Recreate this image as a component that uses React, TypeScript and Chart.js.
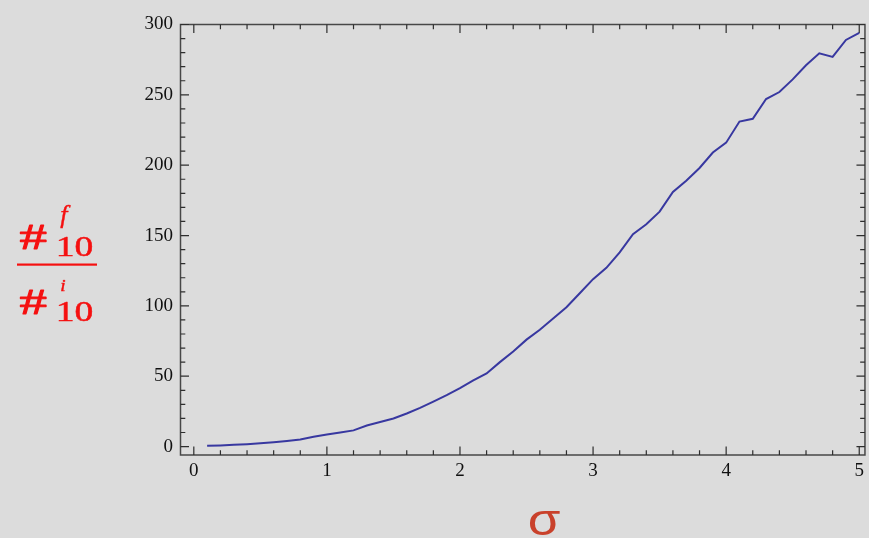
import React, { useEffect, useRef } from "react";
import { Chart, registerables } from "chart.js";

Chart.register(...registerables);

const sigmaValues = [
  0.1, 0.2, 0.3, 0.4, 0.5, 0.6, 0.7, 0.8, 0.9, 1.0,
  1.1, 1.2, 1.3, 1.4, 1.5, 1.6, 1.7, 1.8, 1.9, 2.0,
  2.1, 2.2, 2.3, 2.4, 2.5, 2.6, 2.7, 2.8, 2.9, 3.0,
  3.1, 3.2, 3.3, 3.4, 3.5, 3.6, 3.7, 3.8, 3.9, 4.0,
  4.1, 4.2, 4.3, 4.4, 4.5, 4.6, 4.7, 4.8, 4.9, 5.0,
];
const ratioValues = [
  0.5, 0.8, 1.2, 1.7, 2.3, 3.1, 4, 5, 7, 8.5,
  10, 11.5, 15, 17.5, 20, 23.5, 27.5, 32, 36.5, 41.5,
  47, 52, 60, 67.5, 76, 83, 91, 99, 109, 119,
  127, 138, 151, 158, 167, 181, 189, 198, 209, 216,
  231, 233, 247, 252, 261, 271, 279.5, 277, 289, 294,
];
const xTickLabels = [0, 1, 2, 3, 4, 5];
const yTickLabels = [0, 50, 100, 150, 200, 250, 300];

const W = 869;
const H = 538;

function inkBox(
  ctx: CanvasRenderingContext2D,
  text: string,
  family: string,
  style: string,
  left: number,
  top: number,
  right: number,
  bottom: number,
  color: string,
  lw: number
) {
  const l = left + lw / 2;
  const t = top + lw / 2;
  const r = right - lw / 2;
  const b = bottom - lw / 2;
  ctx.save();
  ctx.textAlign = "left";
  ctx.textBaseline = "alphabetic";
  ctx.font = `${style} 100px ${family}`;
  let m = ctx.measureText(text);
  const h100 = m.actualBoundingBoxAscent + m.actualBoundingBoxDescent;
  const size = (100 * (b - t)) / h100;
  ctx.font = `${style} ${size}px ${family}`;
  m = ctx.measureText(text);
  const inkW = m.actualBoundingBoxLeft + m.actualBoundingBoxRight;
  const sx = (r - l) / inkW;
  ctx.translate(l, t);
  ctx.scale(sx, 1);
  ctx.fillStyle = color;
  ctx.fillText(text, m.actualBoundingBoxLeft, m.actualBoundingBoxAscent);
  if (lw > 0) {
    ctx.strokeStyle = color;
    ctx.lineWidth = lw;
    ctx.lineJoin = "round";
    ctx.strokeText(text, m.actualBoundingBoxLeft, m.actualBoundingBoxAscent);
  }
  ctx.restore();
}

const framePlugin = {
  id: "frame",
  beforeDatasetsDraw(chart: any) {
    const { ctx, chartArea: a, scales } = chart;
    const x = scales.x;
    const y = scales.y;
    ctx.save();
    ctx.strokeStyle = "#474747";
    ctx.lineWidth = 1.5;
    ctx.strokeRect(a.left, a.top, a.right - a.left, a.bottom - a.top);
    ctx.strokeStyle = "#2e2e2e";
    ctx.lineWidth = 1.2;
    ctx.beginPath();
    for (let i = 0; i <= 25; i++) {
      const px = x.getPixelForValue(i / 5);
      const len = i % 5 === 0 ? 8.5 : 4.8;
      ctx.moveTo(px, a.bottom);
      ctx.lineTo(px, a.bottom - len);
      ctx.moveTo(px, a.top);
      ctx.lineTo(px, a.top + len);
    }
    for (let j = 0; j <= 30; j++) {
      const py = y.getPixelForValue(j * 10);
      const len = j % 5 === 0 ? 8.5 : 4.8;
      ctx.moveTo(a.left, py);
      ctx.lineTo(a.left + len, py);
      ctx.moveTo(a.right, py);
      ctx.lineTo(a.right - len, py);
    }
    ctx.stroke();
    ctx.restore();
  },
  afterDraw(chart: any) {
    const ctx: CanvasRenderingContext2D = chart.ctx;
    const red = "#f51010";
    const lib = "'Liberation Serif'";
    inkBox(ctx, "#", lib, "", 19, 225, 47, 250, red, 0.9);
    inkBox(ctx, "f", lib, "italic", 60, 205, 71, 228, red, 0.4);
    inkBox(ctx, "10", lib, "", 58, 237, 93, 257, red, 0.5);
    ctx.save();
    ctx.fillStyle = red;
    ctx.fillRect(17, 263.5, 80, 2.2);
    ctx.restore();
    inkBox(ctx, "#", lib, "", 19, 290, 47, 315, red, 0.9);
    inkBox(ctx, "i", lib, "italic", 60, 280, 66, 292, red, 0.4);
    inkBox(ctx, "10", lib, "", 58, 302, 93, 322, red, 0.5);
    inkBox(ctx, "σ", "'Liberation Sans'", "", 529, 511, 560, 535, "#c9412b", 0);
  },
};

export default function App() {
  const ref = useRef<HTMLCanvasElement | null>(null);
  useEffect(() => {
    if (!ref.current) return;
    const points = sigmaValues.map((s, i) => ({ x: s, y: ratioValues[i] }));
    const tickFont = { family: "'Liberation Serif', 'Times New Roman', serif", size: 19 };
    const chart = new Chart(ref.current, {
      type: "line",
      data: {
        datasets: [
          {
            data: points,
            borderColor: "rgb(56,56,160)",
            borderWidth: 2,
            pointRadius: 0,
            tension: 0,
            fill: false,
          },
        ],
      },
      options: {
        animation: false,
        responsive: false,
        devicePixelRatio: 1,
        layout: { padding: { left: 0, top: 24.5, right: 1.5, bottom: 0 } },
        plugins: { legend: { display: false }, tooltip: { enabled: false } },
        scales: {
          x: {
            type: "linear",
            min: -0.1,
            max: 5.043,
            grid: { display: false, drawTicks: false },
            border: { display: false },
            afterBuildTicks: (s: any) => {
              s.ticks = xTickLabels.map((v) => ({ value: v }));
            },
            afterFit: (s: any) => {
              s.height = H - 455;
            },
            ticks: {
              autoSkip: false,
              maxRotation: 0,
              padding: 5,
              color: "#111",
              font: tickFont,
            },
          },
          y: {
            type: "linear",
            min: -6,
            max: 300,
            grid: { display: false, drawTicks: false },
            border: { display: false },
            afterBuildTicks: (s: any) => {
              s.ticks = yTickLabels.map((v) => ({ value: v }));
            },
            afterFit: (s: any) => {
              s.width = 180.5;
            },
            ticks: {
              autoSkip: false,
              padding: 7.5,
              color: "#111",
              font: tickFont,
            },
          },
        },
      },
      plugins: [framePlugin],
    } as any);
    return () => chart.destroy();
  }, []);
  return (
    <div
      style={{
        position: "absolute",
        left: 0,
        top: 0,
        width: W,
        height: H,
        background: "#dcdcdc",
        overflow: "hidden",
      }}
    >
      <canvas ref={ref} width={W} height={H} style={{ display: "block" }} />
    </div>
  );
}
